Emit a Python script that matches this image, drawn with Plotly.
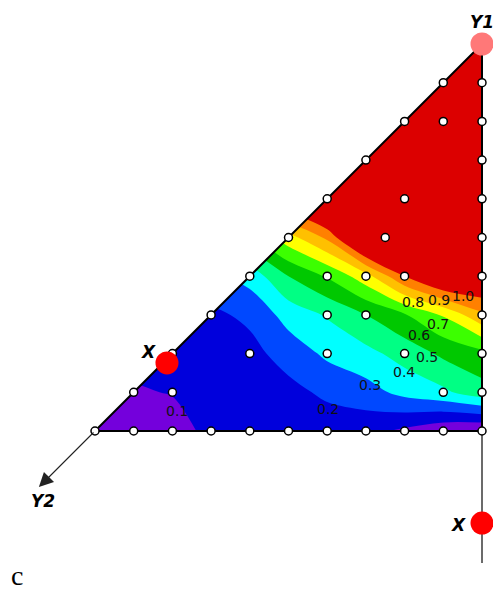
import plotly.graph_objects as go

# Grid nodes of the ternary-style triangle (u along the base, v up the right side)
u_nodes = [0, 1, 2, 3, 4, 5, 6, 7, 8, 9, 10]
v_nodes = [0, 1, 2, 3, 4, 5, 6, 7, 8, 9, 10]

# Response values at the grid nodes, one row per v level
z_v0 = [0.03, 0.04, 0.06, 0.125, 0.13, 0.13, 0.14, 0.13, 0.08, 0.02, 0.00]
z_v1 = [0.08, 0.09, 0.105, 0.13, 0.15, 0.17, 0.22, 0.26, 0.33, 0.38, 0.46]
z_v2 = [0.12, 0.13, 0.14, 0.15, 0.17, 0.24, 0.32, 0.37, 0.44, 0.52, 0.57]
z_v3 = [0.16, 0.17, 0.18, 0.18, 0.22, 0.34, 0.41, 0.50, 0.59, 0.71, 0.88]
z_v4 = [0.25, 0.26, 0.27, 0.28, 0.34, 0.50, 0.61, 0.76, 1.00, 1.17, 1.15]
z_v5 = [0.55, 0.56, 0.58, 0.59, 0.60, 0.76, 0.92, 1.25, 1.30, 1.30, 1.30]
z_v6 = [1.10, 1.10, 1.12, 1.12, 1.13, 1.14, 1.30, 1.40, 1.40, 1.40, 1.40]
z_v7 = [1.40, 1.40, 1.40, 1.40, 1.40, 1.40, 1.40, 1.50, 1.45, 1.45, 1.45]
z_v8 = [1.50, 1.50, 1.50, 1.50, 1.50, 1.50, 1.50, 1.50, 1.50, 1.50, 1.50]
z_v9 = [1.50, 1.50, 1.50, 1.50, 1.50, 1.50, 1.50, 1.50, 1.50, 1.55, 1.55]
z_v10 = [1.50, 1.50, 1.50, 1.50, 1.50, 1.50, 1.50, 1.50, 1.50, 1.55, 1.60]

# Contour levels and their labels
levels = [0.1, 0.2, 0.3, 0.4, 0.5, 0.6, 0.7, 0.8, 0.9, 1.0]
level_text = ["0.1", "0.2", "0.3", "0.4", "0.5", "0.6", "0.7", "0.8", "0.9", "1.0"]
label_pos = [(2.12, 0.52), (6.02, 0.57), (7.11, 1.19), (7.98, 1.52), (8.58, 1.91),
             (8.37, 2.48), (8.86, 2.76), (8.22, 3.33), (8.89, 3.39), (9.51, 3.49)]

# Design points
pts_u = [0, 1, 2, 3, 4, 5, 6, 7, 8, 9, 10,
         10, 10, 10, 10, 10, 10, 10, 10, 10,
         1, 2, 3, 4, 5, 6, 7, 8, 9,
         2, 4, 6, 8, 9, 6, 7, 6, 7, 8, 7.5, 8, 9]
pts_v = [0, 0, 0, 0, 0, 0, 0, 0, 0, 0, 0,
         1, 2, 3, 4, 5, 6, 7, 8, 9,
         1, 2, 3, 4, 5, 6, 7, 8, 9,
         1, 2, 2, 2, 1, 3, 3, 4, 4, 4, 5, 6, 8]

band_colors = ["#7400dc", "#0000dc", "#0048ff", "#00ffff", "#00ff84", "#00c800",
               "#3cff00", "#ffff00", "#ffc000", "#ff8000", "#dc0000"]

# Stepwise colour scale: one flat colour per band
n = len(band_colors)
colorscale = []
for i, c in enumerate(band_colors):
    lo = 0.0 if i == 0 else (i - 0.5) / (n - 1)
    hi = 1.0 if i == n - 1 else (i + 0.5) / (n - 1)
    colorscale.append([lo, c])
    colorscale.append([hi, c])

z = [z_v0, z_v1, z_v2, z_v3, z_v4, z_v5, z_v6, z_v7, z_v8, z_v9, z_v10]

fig = go.Figure()
fig.add_trace(go.Contour(
    x=u_nodes, y=v_nodes, z=z,
    contours=dict(start=levels[0], end=levels[-1], size=0.1, coloring="fill", showlines=False),
    line=dict(width=0),
    colorscale=colorscale, showscale=False, hoverinfo="skip",
))

# white mask above the hypotenuse
fig.add_trace(go.Scatter(
    x=[0, 10, 10, -0.3, -0.3, 0], y=[0, 10, 10.3, 10.3, 0, 0],
    fill="toself", fillcolor="white", mode="lines", line=dict(width=0),
    hoverinfo="skip", showlegend=False,
))

# axis extension below the right corner
fig.add_trace(go.Scatter(
    x=[10, 10], y=[0, -3.41], mode="lines", line=dict(color="#3a3a3a", width=1.5),
    hoverinfo="skip", showlegend=False,
))

# triangle outline
fig.add_trace(go.Scatter(
    x=[0, 10, 10, 0], y=[0, 0, 10, 0], mode="lines", line=dict(color="black", width=2),
    hoverinfo="skip", showlegend=False,
))

fig.add_trace(go.Scatter(
    x=pts_u, y=pts_v, mode="markers",
    marker=dict(size=8, color="white", line=dict(color="black", width=1.5)),
    hoverinfo="skip", showlegend=False,
))

# vertex / component markers
fig.add_trace(go.Scatter(
    x=[1.86, 10], y=[1.76, -2.38], mode="markers",
    marker=dict(size=23, color="#ff0000"), hoverinfo="skip", showlegend=False,
))
fig.add_trace(go.Scatter(
    x=[10], y=[10], mode="markers",
    marker=dict(size=23, color="#ff7878"), hoverinfo="skip", showlegend=False,
))

annotations = []
for txt, (lx, ly) in zip(level_text, label_pos):
    annotations.append(dict(x=lx, y=ly, text=txt, showarrow=False,
                            font=dict(family="DejaVu Sans", size=14, color="#111")))

bold_it = dict(family="DejaVu Sans", size=17, color="black", weight="bold", style="italic")
annotations += [
    dict(x=1.37, y=2.04, text="X", showarrow=False, font=bold_it),
    dict(x=9.38, y=-2.43, text="X", showarrow=False, font=bold_it),
    dict(x=10.0, y=10.57, text="Y1", showarrow=False, font=bold_it),
    dict(x=-1.34, y=-1.80, text="Y2", showarrow=False, font=bold_it),
    dict(x=-2.02, y=-3.74, text="c", showarrow=False,
         font=dict(family="Liberation Serif", size=28, color="black")),
    dict(x=-1.45, y=-1.45, ax=0, ay=0, axref="x", ayref="y", xref="x", yref="y",
         text="", showarrow=True, arrowhead=2, arrowsize=2.6, arrowwidth=1.1,
         arrowcolor="#222"),
]

fig.update_layout(
    width=493, height=591,
    margin=dict(l=0, r=0, t=0, b=0),
    plot_bgcolor="white", paper_bgcolor="white",
    xaxis=dict(visible=False, range=[-95 / 38.7, (493 - 95) / 38.7]),
    yaxis=dict(visible=False, range=[(431 - 591) / 38.7, 431 / 38.7]),
    annotations=annotations,
    showlegend=False,
)

fig.write_html("out.html")
